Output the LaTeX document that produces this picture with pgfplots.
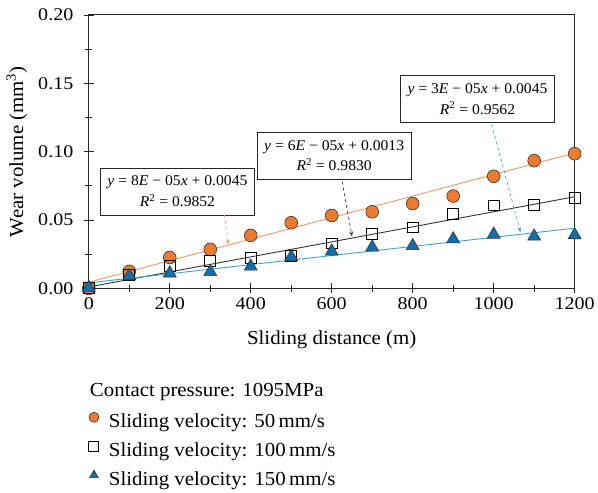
\documentclass[border=0pt]{standalone}
\usepackage{pgfplots}
\pgfplotsset{compat=1.18}
\usepackage{fontspec}
\setmainfont{Liberation Serif}[FakeStretch=1.05]
\newfontfamily\tickfont{Liberation Serif}[FakeStretch=1.12]
\usetikzlibrary{arrows.meta}
\definecolor{orfill}{RGB}{238,122,45}
\definecolor{orline}{RGB}{245,150,100}
\definecolor{blfill}{RGB}{16,110,178}
\definecolor{blline}{RGB}{60,160,215}
\definecolor{gline}{RGB}{50,50,50}
\newcommand{\eqn}[3]{\textit{y} = #1\textit{E} − 05\textit{x} + #2\\\textit{R}\textsuperscript{2} = #3}
\begin{document}
\begin{tikzpicture}
\begin{axis}[
  scale only axis, width=487bp, height=274bp,
  xmin=0, xmax=1200, ymin=0, ymax=0.20,
  xtick={0,200,...,1200}, minor xtick={100,300,...,1100},
  ytick={0,0.05,...,0.20}, minor ytick={0.025,0.075,...,0.175},
  axis line style={line width=1pt, black!85},
  xtick pos=bottom, ytick pos=left,
  tick align=center,
  major tick length=10bp, minor tick length=7bp,
  tick style={black!85, line width=0.8pt},
  /pgf/number format/1000 sep={},
  y tick label style={xshift=-7bp, /pgf/number format/.cd, fixed, fixed zerofill, precision=2},
  /pgf/number format/assume math mode=true,
  tick label style={font=\tickfont\fontsize{18}{22}\selectfont},
  xticklabel style={yshift=-1bp},
  xlabel={Sliding distance (m)},
  ylabel={Wear volume (mm\textsuperscript{3})},
  xlabel style={font=\fontsize{20}{24}\selectfont, yshift=-14bp},
  ylabel style={font=\fontsize{20}{24}\selectfont, at={(rel axis cs:0,0.5)}, anchor=center, yshift=72bp},
  legend style={at={(0,-0.4526)}, anchor=north west, draw=none, fill=none,
    font=\fontsize{20}{24}\selectfont, row sep=10bp, column sep=7bp, inner xsep=0pt, inner ysep=0pt,
    nodes={inner xsep=3bp, inner ysep=0bp, text height=14bp, text depth=4bp}},
  legend image code/.code={\draw[#1, mark size=5bp] plot coordinates {(0bp,5bp)};},
  legend cell align=left,
  clip=false,
]
% trend lines
\addplot[orline, line width=0.9pt, forget plot] coordinates {(0,0.0045) (1200,0.0990)};
\addplot[gline, line width=0.9pt, forget plot] coordinates {(0,0.0010) (1200,0.0670)};
\addplot[blline, line width=0.9pt, forget plot] coordinates {(0,0.0040) (1200,0.0440)};
% data
\addplot[only marks, mark=*, mark size=6.4bp, mark options={fill=orfill, draw=black!80, line width=0.6pt}]
 coordinates {(0,0.000) (100,0.0124) (200,0.0226) (300,0.0285) (400,0.0387) (500,0.0480)
 (600,0.0533) (700,0.0560) (800,0.0620) (900,0.0675) (1000,0.0820) (1100,0.0934) (1200,0.0985)};
\addplot[only marks, mark=square, mark size=5.5bp, mark options={fill=white, draw=black, line width=1pt}]
 coordinates {(0,0.000) (100,0.0100) (200,0.0160) (300,0.0197) (400,0.0219) (500,0.0238)
 (600,0.0328) (700,0.0394) (800,0.0445) (900,0.0547) (1000,0.0606) (1100,0.0613) (1200,0.0664)};
\addplot[only marks, mark=triangle*, mark size=7.5bp, mark options={fill=blfill, draw=black!80, line width=0.6pt}]
 coordinates {(0,0.0005) (100,0.0090) (200,0.0110) (300,0.0120) (400,0.0160) (500,0.0230)
 (600,0.0270) (700,0.0300) (800,0.0310) (900,0.0360) (1000,0.0394) (1100,0.0380) (1200,0.0390)};
\legend{Sliding velocity: 50\,mm/s, Sliding velocity: 100\,mm/s, Sliding velocity: 150\,mm/s}
% annotations
\tikzset{eqbox/.style={draw=black!85, line width=0.8pt, fill=white, align=center, inner xsep=7bp, inner ysep=8bp, font=\fontsize{15}{21}\selectfont}}
\node[eqbox] at (axis cs:219,0.0708) {\eqn{8}{0.0045}{0.9852}};
\node[eqbox] at (axis cs:606,0.0971) {\eqn{6}{0.0013}{0.9830}};
\node[eqbox] at (axis cs:960,0.1387) {\eqn{3}{0.0045}{0.9562}};
\draw[orline, dashed, line width=0.7pt, -{Stealth[length=5bp]}] (axis cs:335,0.054) -- (axis cs:345,0.032);
\draw[gline, dashed, line width=0.7pt, -{Stealth[length=5bp]}] (axis cs:626,0.078) -- (axis cs:650,0.038);
\draw[blline, dashed, line width=0.7pt, -{Stealth[length=5bp]}] (axis cs:995,0.120) -- (axis cs:1066,0.041);
\node[anchor=base west, font=\fontsize{20}{24}\selectfont, inner xsep=0pt] at (rel axis cs:0.002,-0.394) {Contact pressure: 1095MPa};
% page extent
\path (rel axis cs:0,1) ++(-89bp,15bp) coordinate (tl);
\path (rel axis cs:1,0) ++(22bp,-205bp) coordinate (br);
\path (tl) rectangle (br);
\end{axis}
\end{tikzpicture}
\end{document}
